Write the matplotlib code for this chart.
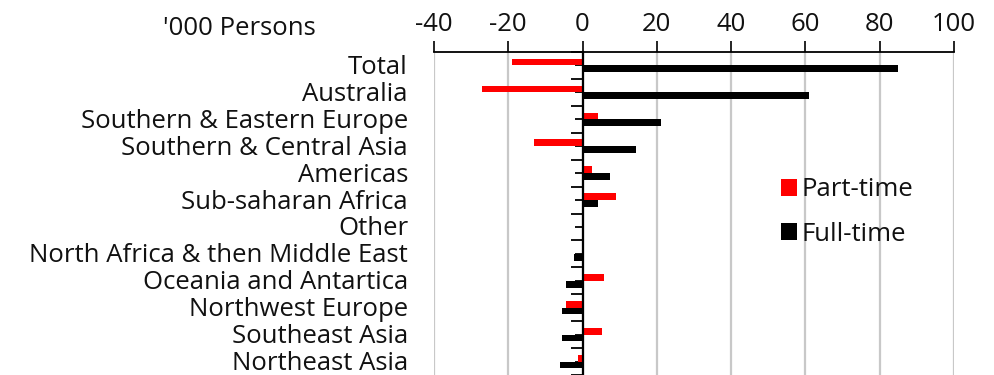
import matplotlib
matplotlib.use("Agg")
import matplotlib.pyplot as plt
import matplotlib.transforms as mtransforms
from matplotlib.patches import Patch
from matplotlib.ticker import MultipleLocator
import numpy as np

regions = [
    "Total",
    "Australia",
    "Southern & Eastern Europe",
    "Southern & Central Asia",
    "Americas",
    "Sub-saharan Africa",
    "Other",
    "North Africa & then Middle East",
    "Oceania and Antartica",
    "Northwest Europe",
    "Southeast Asia",
    "Northeast Asia",
]
part_time = [-19.0, -27.0, 4.2, -13.0, 2.5, 9.0, 0.0, 0.3, 5.9, -4.5, 5.3, -1.2]
full_time = [85.0, 61.0, 21.0, 14.5, 7.5, 4.2, 0.0, -2.2, -4.5, -5.5, -5.5, -6.0]
x_ticks = [-40, -20, 0, 20, 40, 60, 80, 100]
series_names = ["Part-time", "Full-time"]
unit_label = "'000 Persons"

plt.rcParams["font.family"] = ["Open Sans", "DejaVu Sans"]
txt = "#111111"
fs = 18.5

fig = plt.figure(figsize=(9.94, 3.75), dpi=100)
ax = fig.add_axes([434 / 994, 0.0, 520 / 994, 1 - 52 / 375])

y = np.arange(len(regions))
h = 0.25
ax.barh(y - h / 2, part_time, height=h, color="#ff0000", zorder=3)
ax.barh(y + h / 2, full_time, height=h, color="#000000", zorder=3)

ax.set_xlim(-40, 100)
ax.set_ylim(len(regions) - 0.5, -0.5)

# value axis along the top
ax.xaxis.tick_top()
ax.set_xticks(x_ticks)
ax.set_xticklabels([str(v) for v in x_ticks], fontsize=fs, color=txt)
ax.tick_params(axis="x", direction="out", length=8, width=1.2, pad=3,
               color="#000000")
ax.grid(axis="x", color="#c8c8c8", linewidth=1.6, zorder=0)

# category axis drawn at zero
for s in ["right", "bottom"]:
    ax.spines[s].set_visible(False)
ax.spines["top"].set_linewidth(1.3)
ax.spines["left"].set_position(("data", 0))
ax.spines["left"].set_linewidth(1.6)
ax.spines["left"].set_zorder(4)
ax.set_yticks(np.arange(-0.5, len(regions), 1.0))
ax.yaxis.set_minor_locator(MultipleLocator(1.0))
ax.set_yticklabels([])
ax.tick_params(axis="y", which="major", direction="out", length=8.5, width=1.3)
ax.tick_params(axis="y", which="minor", direction="out", length=6, width=1.3)

# category names to the left of the plot area, baseline just below row centre
label_tr = mtransforms.offset_copy(ax.get_yaxis_transform(), fig=fig,
                                   x=0, y=-8.5, units="dots")
for i, name in enumerate(regions):
    ax.text(-0.05, i, name, transform=label_tr,
            ha="right", va="baseline", fontsize=fs, color=txt)

fig.text(163 / 994, 1 - 35 / 375, unit_label, ha="left", va="baseline",
         fontsize=fs, color=txt)

handles = [Patch(facecolor="#ff0000"), Patch(facecolor="#000000")]
ax.legend(handles, series_names, loc="center left",
          bbox_to_anchor=(758 / 994, 1 - 212 / 375), bbox_transform=fig.transFigure,
          frameon=False, fontsize=fs, handlelength=0.62, handleheight=0.62,
          handletextpad=0.18, labelspacing=0.75, labelcolor=txt)

fig.savefig("out.png", dpi=100)
